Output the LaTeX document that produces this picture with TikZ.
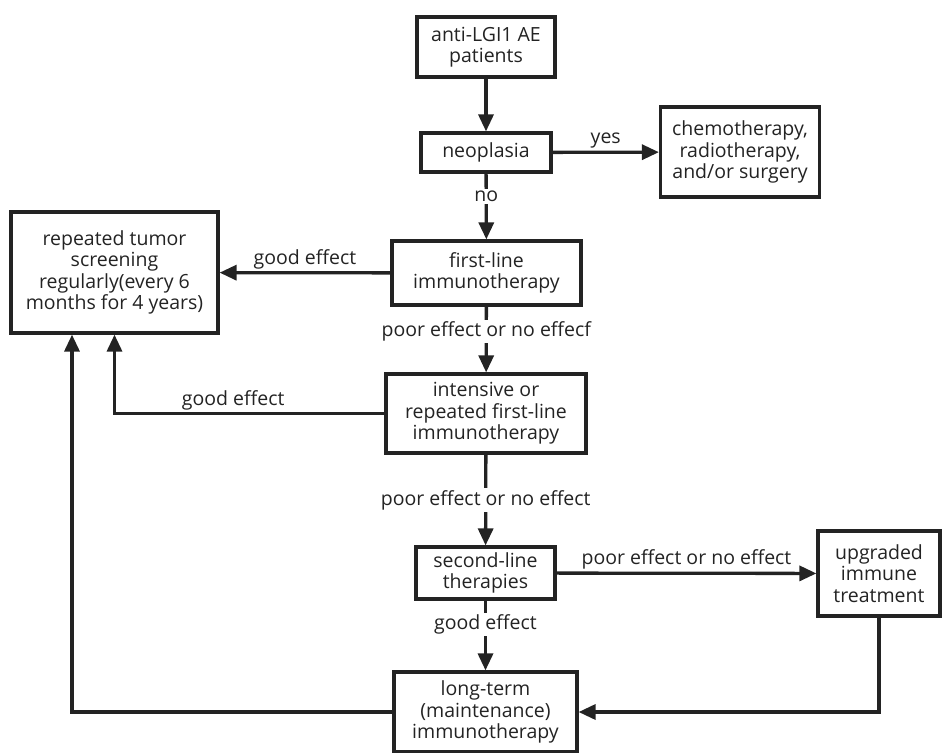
\documentclass[tikz,border=0pt]{standalone}
\usepackage{fontspec}
\setmainfont{Open Sans}
\usetikzlibrary{arrows.meta}
\definecolor{ink}{HTML}{232323}

\begin{document}
\begin{tikzpicture}[x=1pt,y=-1pt,
    box/.style={draw=ink, line width=3.2pt, align=center, inner sep=0pt, text=ink,
                font=\fontsize{19.5}{21.5}\selectfont},
    lbl/.style={text=ink, font=\fontsize{19.5}{21.5}\selectfont, inner sep=2pt},
    arr/.style={draw=ink, line width=3.3pt, -{Triangle[length=17pt,width=15pt]}}]
    \useasboundingbox (0,0) rectangle (942,752);

    \node[box, minimum width=138pt, minimum height=60pt] (pat) at (486,47) {anti-LGI1 AE\\patients};
    \node[box, minimum width=130pt, minimum height=39pt] (neo) at (486,152.5) {neoplasia};
    \node[box, minimum width=159pt, minimum height=90pt] (chemo) at (740,152) {chemotherapy,\\radiotherapy,\\and/or surgery};
    \node[box, minimum width=189pt, minimum height=64pt] (first) at (486.5,273) {first-line\\immunotherapy};
    \node[box, minimum width=207pt, minimum height=121pt] (screen) at (114.5,272.5) {repeated tumor\\screening\\regularly(every 6\\months for 4 years)};
    \node[box, minimum width=200pt, minimum height=79pt] (inten) at (486,413.5) {intensive or\\repeated first-line\\immunotherapy};
    \node[box, minimum width=139pt, minimum height=52pt] (second) at (485.5,573) {second-line\\therapies};
    \node[box, minimum width=122pt, minimum height=85pt] (upg) at (879,573.5) {upgraded\\immune\\treatment};
    \node[box, minimum width=183pt, minimum height=80pt] (longt) at (485.5,712) {long-term\\(maintenance)\\immunotherapy};

    \draw[arr] (pat) -- (neo);
    \draw[arr] (neo) -- node[lbl, above] {yes} (chemo);
    \draw[arr] (neo) -- node[lbl, fill=white, pos=0.35] {no} (first);
    \draw[arr] (first) -- node[lbl, above] {good effect} (screen);
    \draw[arr] (first) -- node[lbl, fill=white, pos=0.38] {poor effect or no effecf} (inten);
    \draw[arr] (inten.west) -| node[lbl, above, pos=0.28] {good effect} (screen.south);
    \draw[arr] (inten) -- node[lbl, fill=white] {poor effect or no effect} (second);
    \draw[arr] (second) -- node[lbl, above] {poor effect or no effect} (upg);
    \draw[arr] (second) -- node[lbl, fill=white, pos=0.34] {good effect} (longt);
    \draw[arr] (upg.south) |- (longt.east);
    \draw[arr] (longt.west) -| ([xshift=-42.5pt]screen.south);

\end{tikzpicture}
\end{document}
